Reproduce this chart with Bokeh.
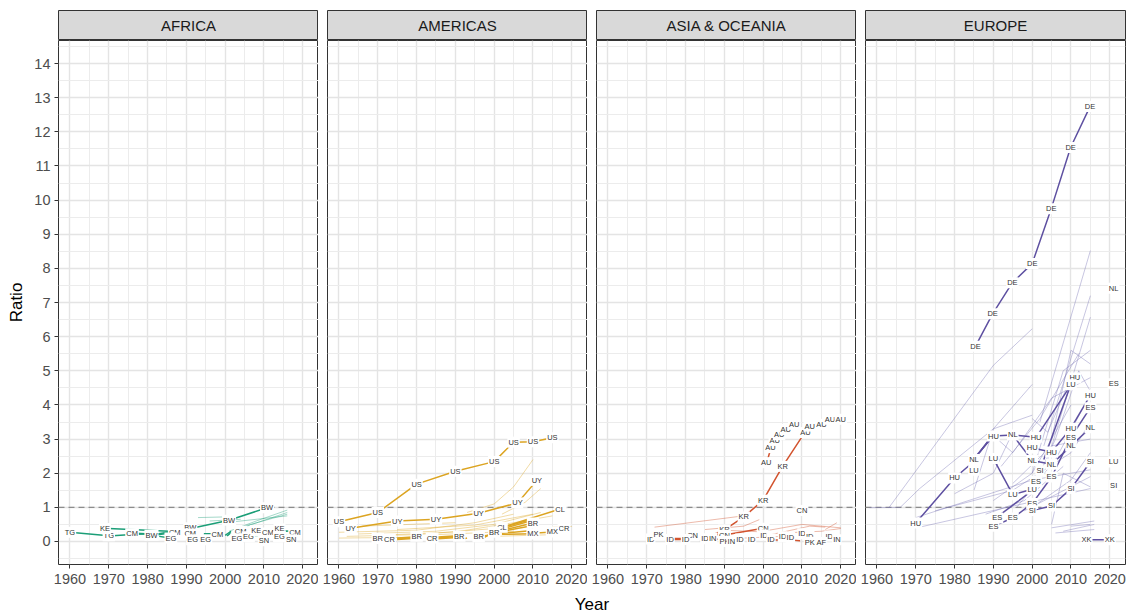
from bokeh.plotting import figure
from bokeh.layouts import column, row
from bokeh.models import Range1d, FixedTicker, Span, Grid
from bokeh.core.properties import value
from bokeh.embed import file_html
from bokeh.resources import INLINE

FONT = "Liberation Sans"

regions = ["AFRICA", "AMERICAS", "ASIA & OCEANIA", "EUROPE"]
line_colors = ["#1b9e77", "#dca421", "#d2532e", "#5e50a1"]
faint_colors = ["#1b9e77", "#dca421", "#d2532e", "#7570b3"]

x_ticks = [1960, 1970, 1980, 1990, 2000, 2010, 2020]
y_ticks = list(range(0, 15))

# ---------------- AFRICA ----------------
africa_codes = ["TG", "TG", "KE", "CM", "BW", "CM", "EG", "BW", "CM", "EG", "EG", "CM",
                "BW", "BW", "CM", "EG", "EG", "KE", "CM", "SN", "KE", "EG", "CM", "SN"]
africa_years = [1960, 1970, 1969, 1976, 1981, 1987, 1986, 1991, 1991, 1991.6, 1995, 1998,
                2001, 2010.8, 2004, 2003, 2006, 2008, 2011, 2010, 2014, 2014, 2018, 2017]
africa_ratio = [0.27, 0.17, 0.38, 0.23, 0.18, 0.25, 0.10, 0.40, 0.22, 0.05, 0.05, 0.20,
                0.62, 0.99, 0.30, 0.08, 0.14, 0.32, 0.25, 0.02, 0.37, 0.14, 0.25, 0.05]
africa_lines = [
    ([1960, 1970], [0.27, 0.17]),
    ([1971, 1975], [0.17, 0.20]),
    ([1970, 1985.5], [0.38, 0.30]),
    ([1977, 1979.5], [0.24, 0.23]),
    ([1977, 1979.5], [0.21, 0.22]),
    ([1982.5, 1985.5], [0.20, 0.24]),
    ([1982.5, 1985.5], [0.22, 0.28]),
    ([1983, 1985], [0.15, 0.12]),
    ([1990, 1990.8], [0.05, 0.05]),
    ([1992, 2001, 2010.8], [0.40, 0.62, 0.99]),
    ([1994.5, 1996.5], [0.23, 0.23]),
    ([1994.5, 1996.5], [0.20, 0.21]),
    ([2000, 2001.5], [0.18, 0.30]),
    ([2000.5, 2001.5], [0.16, 0.26]),
    ([2015.5, 2016.5], [0.30, 0.31]),
]
africa_faint = [
    ([1993, 2000], [0.70, 0.72]),
    ([1996, 2004], [0.60, 0.65]),
    ([2001, 2008, 2016], [0.30, 0.60, 0.92]),
    ([2003, 2010, 2016], [0.35, 0.62, 0.85]),
    ([2005, 2016], [0.45, 0.80]),
    ([2000, 2016], [0.55, 0.75]),
    ([2011, 2016], [0.30, 0.32]),
    ([2006, 2016], [0.15, 0.20]),
]

# ---------------- AMERICAS ----------------
americas_codes = ["US"] * 8 + ["UY"] * 6 + ["CL"] * 2 + ["BR"] * 6 + ["CR"] * 3 + ["MX"] * 2
americas_years = [1960, 1970, 1980, 1990, 2000, 2005, 2010, 2015,
                  1963, 1975, 1985, 1996, 2006, 2011,
                  2002, 2017,
                  1970, 1980, 1991, 1996, 2000, 2010,
                  1973, 1984, 2018,
                  2010, 2015]
americas_ratio = [0.58, 0.85, 1.68, 2.06, 2.34, 2.91, 2.92, 3.04,
                  0.39, 0.60, 0.65, 0.83, 1.13, 1.79,
                  0.42, 0.95,
                  0.09, 0.15, 0.15, 0.14, 0.27, 0.54,
                  0.07, 0.10, 0.37,
                  0.22, 0.28]
americas_lines = [
    ([1960, 1970, 1980, 1990, 2000, 2005, 2010, 2015],
     [0.58, 0.85, 1.68, 2.06, 2.34, 2.91, 2.92, 3.04]),
    ([1963, 1975, 1985, 1996, 2006, 2011], [0.39, 0.60, 0.65, 0.83, 1.13, 1.79]),
    ([2003, 2017], [0.45, 0.95]),
    ([2003, 2010], [0.44, 0.66]),
    ([2003, 2010], [0.40, 0.62]),
    ([2001, 2010], [0.30, 0.54]),
    ([2001, 2010], [0.27, 0.47]),
    ([2002, 2010], [0.21, 0.23]),
    ([2002, 2010], [0.24, 0.32]),
    ([2011, 2015], [0.25, 0.28]),
    ([1975, 1979], [0.06, 0.09]),
    ([1975, 1979], [0.08, 0.11]),
    ([1975, 1979], [0.10, 0.13]),
    ([1985.5, 1989.5], [0.08, 0.11]),
    ([1985.5, 1989.5], [0.10, 0.14]),
    ([1985.5, 1989.5], [0.13, 0.16]),
    ([1992, 1993], [0.07, 0.10]),
    ([1997.5, 1999], [0.12, 0.22]),
    ([1997, 1999], [0.16, 0.19]),
]
americas_faint = [
    ([1960, 1980, 1995, 2005], [0.27, 0.33, 0.55, 0.80]),
    ([1993, 2000, 2005, 2010], [0.85, 1.10, 1.60, 2.40]),
    ([2002, 2008, 2012], [0.80, 1.15, 1.55]),
    ([1965, 1985, 2000, 2012], [0.22, 0.30, 0.50, 0.85]),
    ([1970, 1990, 2005, 2015], [0.18, 0.28, 0.55, 0.75]),
    ([1962, 1980, 2000], [0.15, 0.20, 0.38]),
    ([1975, 1995, 2010], [0.35, 0.48, 0.80]),
    ([1966, 1990], [0.45, 0.55]),
    ([2015, 2020], [0.42, 0.44]),
    ([1960, 1976], [0.10, 0.12]),
    ([1985, 2005], [0.20, 0.30]),
    ([2000, 2015], [0.15, 0.20]),
]

# ---------------- ASIA & OCEANIA ----------------
asia_codes = ["AU"] * 11 + ["KR"] * 4 + ["CN"] * 4 + ["ID"] * 13 + ["PK"] * 3 + ["IN"] * 3 + ["AF"]
asia_years = [2000.8, 2001.9, 2003, 2004.1, 2005.8, 2008, 2010.9, 2012, 2015, 2017.2, 2020,
              1990, 1995, 2000, 2005,
              1981.8, 1990, 2000, 2010,
              1971, 1976, 1980, 1985, 1994, 1997, 2000.2, 2002, 2005, 2007, 2010, 2012, 2017,
              1973, 1990, 2012,
              1987, 1991.8, 2019,
              2015]
asia_ratio = [2.31, 2.75, 2.96, 3.13, 3.28, 3.43, 3.19, 3.38, 3.43, 3.58, 3.58,
              0.34, 0.72, 1.21, 2.20,
              0.17, 0.18, 0.39, 0.91,
              0.07, 0.06, 0.06, 0.08, 0.07, 0.07, 0.19, 0.07, 0.14, 0.12, 0.23, 0.15, 0.16,
              0.20, 0.00, -0.02,
              0.10, 0.01, 0.05,
              -0.03]
asia_lines = [
    ([1987, 1990, 1995, 2000, 2005, 2010.7], [0.20, 0.34, 0.72, 1.21, 2.20, 3.19]),
    ([2001.2, 2001.7], [2.42, 2.62]),
    ([1991.5, 2000], [0.22, 0.39]),
    ([1971.6, 1972.6], [0.07, 0.07]),
    ([1976.8, 1978.8], [0.09, 0.09]),
    ([1976.8, 1978.8], [0.06, 0.06]),
    ([1988, 1991], [0.22, 0.05]),
    ([1988, 1991], [0.06, 0.16]),
    ([2002.5, 2004], [0.04, 0.04]),
    ([2007.5, 2009.5], [0.04, 0.02]),
    ([2010.5, 2011.5], [0.14, 0.06]),
]
asia_faint = [
    ([1972, 1993.5], [0.42, 0.73]),
    ([1985, 1995, 1999], [0.35, 0.45, 0.64]),
    ([2000, 2010, 2020], [0.30, 0.50, 0.40]),
    ([2002, 2012, 2016], [0.20, 0.45, 0.42]),
    ([2016, 2019], [0.35, 0.55]),
    ([1990, 2000], [0.33, 0.28]),
    ([2005, 2015, 2020], [0.25, 0.30, 0.38]),
    ([1995, 2005], [0.10, 0.15]),
]

# ---------------- EUROPE ----------------
europe_codes = (["DE"] * 7 + ["HU"] * 9 + ["NL"] * 7 + ["LU"] * 6 + ["ES"] * 9
                + ["SI"] * 6 + ["XK"] * 2)
europe_years = [1985.4, 1989.8, 1994.9, 2000, 2004.9, 2009.9, 2014.9,
                1970, 1980, 1990, 2001, 2000, 2005, 2010, 2015, 2011,
                1985, 1995, 2000, 2005, 2010, 2015, 2021,
                1985, 1990, 1995, 2000, 2010, 2021,
                1990, 1991, 1995, 2000, 2001, 2005, 2010, 2015, 2021,
                2002, 2000, 2005, 2010, 2015, 2021,
                2014, 2020]
europe_ratio = [5.72, 6.67, 7.58, 8.14, 9.75, 11.54, 12.74,
                0.54, 1.86, 3.09, 3.05, 2.74, 2.62, 3.32, 4.29, 4.79,
                2.40, 3.12, 2.37, 2.26, 2.80, 3.33, 7.42,
                2.09, 2.43, 1.37, 1.53, 4.59, 2.33,
                0.45, 0.69, 0.69, 1.11, 1.76, 1.89, 3.05, 3.92, 4.62,
                2.07, 0.91, 1.04, 1.55, 2.33, 1.64,
                0.05, 0.05]
europe_lines = [
    ([1985.4, 1989.8, 1994.9, 2000, 2004.9, 2009.9, 2014.9],
     [5.72, 6.67, 7.58, 8.14, 9.75, 11.54, 12.74]),
    ([1970, 1980, 1984.5], [0.54, 1.86, 2.30]),
    ([1985.5, 1989.3], [2.50, 3.00]),
    ([1986, 1989.5], [2.55, 3.05]),
    ([1986.5, 1989.7], [2.62, 3.10]),
    ([1990, 1995, 2001], [3.09, 3.12, 3.05]),
    ([1995, 2000], [3.12, 2.37]),
    ([1990, 1995, 2000], [2.43, 1.37, 1.53]),
    ([1990, 1995], [0.45, 0.69]),
    ([1991, 1999.5], [0.72, 1.45]),
    ([1995, 2000], [0.69, 1.11]),
    ([2000, 2005], [1.11, 1.89]),
    ([2000, 2005, 2010, 2015], [0.91, 1.04, 1.55, 2.33]),
    ([2000, 2005], [2.74, 2.62]),
    ([2000, 2005], [2.37, 2.26]),
    ([2001, 2009.8], [3.05, 4.55]),
    ([2003, 2009.8], [2.40, 4.55]),
    ([2005, 2010], [2.62, 3.32]),
    ([2005, 2010], [2.26, 2.80]),
    ([2005, 2010], [1.89, 3.05]),
    ([2010, 2015], [3.32, 4.29]),
    ([2010, 2015], [3.05, 3.92]),
    ([2010, 2015], [2.80, 3.33]),
    ([2014, 2020], [0.05, 0.05]),
]
europe_faint = [
    ([1963, 1990, 2000], [0.98, 5.16, 6.23]),
    ([1958, 1966], [0.99, 1.00]),
    ([1966, 1971, 1990, 2000], [1.00, 1.55, 3.30, 4.60]),
    ([1971, 2015], [0.42, 1.55]),
    ([1970, 2000, 2015], [0.70, 1.80, 2.10]),
    ([1975, 1995, 2010, 2015], [0.90, 1.50, 2.60, 3.50]),
    ([2002, 2015], [3.50, 8.52]),
    ([2003, 2015], [2.80, 7.20]),
    ([2004, 2015], [2.40, 6.57]),
    ([2000, 2008, 2015], [2.00, 5.00, 5.60]),
    ([2005, 2010, 2015], [3.00, 5.60, 5.20]),
    ([1990, 1995, 2005, 2015], [3.10, 2.60, 4.20, 4.80]),
    ([1985, 1990, 2000], [1.50, 3.30, 3.70]),
    ([1995, 2005, 2015], [1.70, 2.80, 3.00]),
    ([2000, 2010, 2015], [1.00, 1.80, 2.60]),
    ([2005, 2008, 2015], [0.50, 2.00, 1.60]),
    ([1998, 2015], [0.90, 1.90]),
    ([2005, 2016], [0.40, 0.60]),
    ([2008, 2016], [0.30, 0.50]),
    ([2006, 2016], [0.25, 0.35]),
    ([2010, 2015], [0.45, 0.50]),
    ([1990, 2000, 2010], [1.20, 2.00, 4.00]),
    ([1980, 1990, 1995], [1.40, 2.00, 3.20]),
    ([2000, 2006, 2012, 2015], [1.50, 3.00, 5.00, 4.40]),
    ([1992, 2002, 2012], [2.20, 3.60, 5.50]),
    ([1996, 2006, 2014], [1.00, 2.40, 4.10]),
    ([2000, 2004, 2010], [3.60, 3.20, 4.80]),
    ([1988, 1998, 2008], [0.80, 1.20, 2.20]),
]

panels_data = [
    (africa_codes, africa_years, africa_ratio, africa_lines, africa_faint),
    (americas_codes, americas_years, americas_ratio, americas_lines, americas_faint),
    (asia_codes, asia_years, asia_ratio, asia_lines, asia_faint),
    (europe_codes, europe_years, europe_ratio, europe_lines, europe_faint),
]

FRAME_W = 260
FRAME_H = 524
LEFT0 = 58
GAP = 9
RIGHT_LAST = 7


def borders(i):
    left = LEFT0 if i == 0 else GAP
    right = RIGHT_LAST if i == 3 else 0
    return left, right


def make_strip(i, name):
    left, right = borders(i)
    s = figure(frame_width=FRAME_W, frame_height=30, x_range=Range1d(0, 1), y_range=Range1d(0, 1),
               toolbar_location=None, output_backend="svg", title=None,
               x_axis_location=None, y_axis_location=None,
               min_border_left=left, min_border_right=right, min_border_top=10, min_border_bottom=0,
               background_fill_color="#d9d9d9", border_fill_color="white",
               outline_line_color="#333333", outline_line_width=1)
    s.center = [r for r in s.center if not isinstance(r, Grid)]
    s.text(x=[0.5], y=[0.5], text=[name], text_align="center", text_baseline="middle",
           text_font=value(FONT), text_font_size="15px", text_color="#1a1a1a")
    return s


def make_panel(i, codes, years, ratio, lines, faint):
    left, right = borders(i)
    p = figure(frame_width=FRAME_W, frame_height=FRAME_H,
               x_range=Range1d(1957.04, 2024.05), y_range=Range1d(-0.674, 14.675),
               toolbar_location=None, output_backend="svg", title=None,
               y_axis_location="left" if i == 0 else None,
               min_border_left=left, min_border_right=right, min_border_top=0, min_border_bottom=30,
               background_fill_color="white", border_fill_color="white",
               outline_line_color="#333333", outline_line_width=1)
    p.center = [r for r in p.center if not isinstance(r, Grid)]

    xt = FixedTicker(ticks=x_ticks, minor_ticks=[t - 5 for t in x_ticks] + [2025])
    yt = FixedTicker(ticks=y_ticks, minor_ticks=[t - 0.5 for t in y_ticks] + [14.5])
    for dim, tk in ((0, xt), (1, yt)):
        g = Grid(dimension=dim, ticker=tk, grid_line_color="#e4e4e4", grid_line_width=1.4,
                 minor_grid_line_color="#ececec", minor_grid_line_width=1.0)
        p.add_layout(g, "center")

    p.add_layout(Span(location=1, dimension="width", line_color="#8c8c8c", line_width=1.3,
                      line_dash="6 4", level="underlay"))

    p.xaxis.ticker = xt
    p.xaxis.axis_line_color = None
    p.xaxis.major_tick_line_color = "#333333"
    p.xaxis.major_tick_out = 4
    p.xaxis.major_tick_in = 0
    p.xaxis.minor_tick_line_color = None
    p.xaxis.major_label_standoff = 5
    p.xaxis.major_label_text_font = FONT
    p.xaxis.major_label_text_font_size = "14.5px"
    p.xaxis.major_label_text_color = "#4d4d4d"

    if i == 0:
        p.yaxis.ticker = yt
        p.yaxis.axis_line_color = None
        p.yaxis.major_tick_line_color = "#333333"
        p.yaxis.major_tick_out = 4
        p.yaxis.major_tick_in = 0
        p.yaxis.minor_tick_line_color = None
        p.yaxis.major_label_standoff = 4
        p.yaxis.major_label_text_font = FONT
        p.yaxis.major_label_text_font_size = "14.5px"
        p.yaxis.major_label_text_color = "#4d4d4d"
        p.yaxis.axis_label = "Ratio"
        p.yaxis.axis_label_text_font = FONT
        p.yaxis.axis_label_text_font_size = "17px"
        p.yaxis.axis_label_text_font_style = "normal"
        p.yaxis.axis_label_text_color = "#000000"
        p.yaxis.axis_label_standoff = 5

    p.multi_line(xs=[l[0] for l in faint], ys=[l[1] for l in faint],
                 line_color=faint_colors[i], line_alpha=0.4, line_width=1)
    p.multi_line(xs=[l[0] for l in lines], ys=[l[1] for l in lines],
                 line_color=line_colors[i], line_alpha=1.0, line_width=1.5)
    p.text(x=years, y=ratio, text=codes, text_align="center", text_baseline="middle",
           text_font=value(FONT), text_font_size="7.5px", text_color="#333333",
           background_fill_color="white", padding=1)
    return p


strips = [make_strip(i, name) for i, name in enumerate(regions)]
panels = [make_panel(i, *d) for i, d in enumerate(panels_data)]

year_fig = figure(width=1132, height=19, x_range=Range1d(0, 1), y_range=Range1d(0, 1),
                  toolbar_location=None, output_backend="svg", title=None,
                  x_axis_location=None, y_axis_location=None, min_border=0,
                  outline_line_color=None, border_fill_color="white")
year_fig.center = [r for r in year_fig.center if not isinstance(r, Grid)]
year_fig.text(x=[591.5 / 1132], y=[0.45], text=["Year"], text_align="center", text_baseline="middle",
              text_font=value(FONT), text_font_size="17px", text_color="#000000")

layout = column(row(*strips), row(*panels), year_fig)
open("out.html", "w").write(file_html(layout, INLINE))
